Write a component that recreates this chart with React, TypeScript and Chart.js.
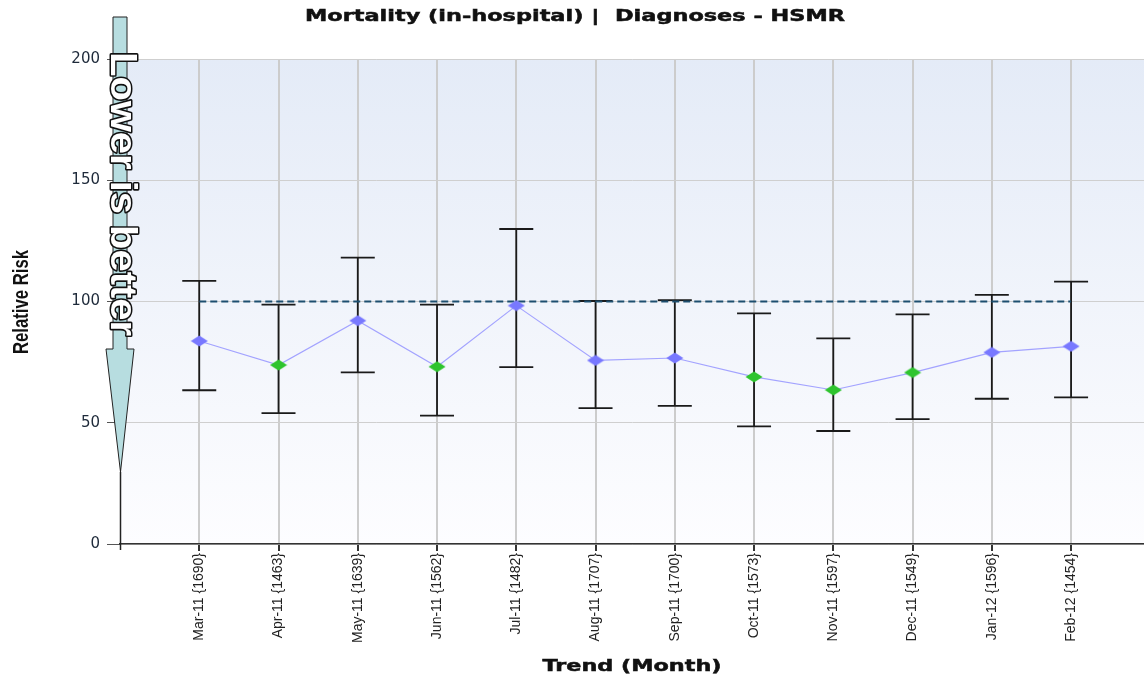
import React, { useEffect, useRef } from "react";
import { Chart, registerables } from "chart.js";

Chart.register(...registerables);

// ---- Data ----
const months = [
  "Mar-11 {1690}",
  "Apr-11 {1463}",
  "May-11 {1639}",
  "Jun-11 {1562}",
  "Jul-11 {1482}",
  "Aug-11 {1707}",
  "Sep-11 {1700}",
  "Oct-11 {1573}",
  "Nov-11 {1597}",
  "Dec-11 {1549}",
  "Jan-12 {1596}",
  "Feb-12 {1454}",
];
const relativeRisk = [83.7, 73.8, 92.1, 73.1, 98.3, 75.7, 76.7, 68.9, 63.5, 70.7, 79.0, 81.5];
const upperCI = [108.5, 98.7, 118.1, 98.7, 129.9, 100.2, 100.6, 95.1, 84.8, 94.7, 102.7, 108.2];
const lowerCI = [63.4, 54.0, 70.8, 52.9, 72.9, 56.0, 57.0, 48.5, 46.6, 51.5, 59.9, 60.5];
const benchmark = 100;
const yTicks = [0, 50, 100, 150, 200];

const chartTitle = "Mortality (in-hospital) |  Diagnoses - HSMR";
const xTitle = "Trend (Month)";
const yTitle = "Relative Risk";
const arrowText = "Lower is better";

const VERDANA = 'Verdana, "DejaVu Sans", sans-serif';
const NARROW = '"Liberation Sans Narrow", "Arial Narrow", "Liberation Sans", Arial, sans-serif';

function makeDiamond(color: string) {
  const c = document.createElement("canvas");
  c.width = 18;
  c.height = 12;
  const g = c.getContext("2d")!;
  g.fillStyle = color;
  g.beginPath();
  g.moveTo(9, 0.5);
  g.lineTo(17.5, 6);
  g.lineTo(9, 11.5);
  g.lineTo(0.5, 6);
  g.closePath();
  g.fill();
  return c;
}

function fitText(ctx: CanvasRenderingContext2D, text: string, target: number) {
  const w = ctx.measureText(text).width;
  return w > 0 ? target / w : 1;
}

function drawWideText(
  ctx: CanvasRenderingContext2D,
  text: string,
  cx: number,
  cy: number,
  targetWidth: number,
  font: string,
  color: string
) {
  ctx.save();
  ctx.font = font;
  ctx.fillStyle = color;
  ctx.strokeStyle = color;
  ctx.lineWidth = 0.5;
  ctx.textAlign = "center";
  ctx.textBaseline = "middle";
  ctx.translate(cx, cy);
  ctx.scale(fitText(ctx, text, targetWidth), 1);
  ctx.fillText(text, 0, 0);
  ctx.strokeText(text, 0, 0);
  ctx.restore();
}

const backgroundPlugin = {
  id: "plotBackground",
  beforeDraw(chart: any) {
    const { ctx, chartArea } = chart;
    const { left, right, top, bottom } = chartArea;
    const g = ctx.createLinearGradient(0, top, 0, bottom);
    g.addColorStop(0, "#e4ebf7");
    g.addColorStop(1, "#fdfdff");
    ctx.save();
    ctx.fillStyle = g;
    ctx.fillRect(left, top, right - left, bottom - top);
    ctx.restore();
  },
};

const errorBarPlugin = {
  id: "errorBars",
  beforeDatasetsDraw(chart: any) {
    const { ctx, scales } = chart;
    const x = scales.x;
    const y = scales.y;
    ctx.save();
    ctx.strokeStyle = "#1a1a1a";
    ctx.lineWidth = 1.8;
    upperCI.forEach((u, i) => {
      const px = x.getPixelForValue(i + 1);
      const pu = y.getPixelForValue(u);
      const pl = y.getPixelForValue(lowerCI[i]);
      ctx.beginPath();
      ctx.moveTo(px, pu);
      ctx.lineTo(px, pl);
      ctx.moveTo(px - 17, pu);
      ctx.lineTo(px + 17, pu);
      ctx.moveTo(px - 17, pl);
      ctx.lineTo(px + 17, pl);
      ctx.stroke();
    });
    ctx.restore();
  },
};

const decorationPlugin = {
  id: "decorations",
  afterDraw(chart: any) {
    const { ctx, chartArea } = chart;
    const ax = chartArea.left;
    ctx.save();

    // Chart title and x axis title (wide bold lettering)
    drawWideText(ctx, chartTitle, 575, 16.5, 540, `bold 16px ${VERDANA}`, "#111");
    drawWideText(
      ctx,
      xTitle,
      (chartArea.left + chartArea.right) / 2,
      667,
      179,
      `bold 16px ${VERDANA}`,
      "#111"
    );

    // Y axis title
    ctx.save();
    ctx.font = `bold 22px ${NARROW}`;
    ctx.fillStyle = "#111";
    ctx.textAlign = "center";
    ctx.textBaseline = "middle";
    ctx.translate(22, 302);
    ctx.rotate(-Math.PI / 2);
    ctx.scale(fitText(ctx, yTitle, 104), 1);
    ctx.fillText(yTitle, 0, 0);
    ctx.restore();

    // Arrow
    const top = 17;
    const headStart = 349;
    const tip = 472;
    ctx.beginPath();
    ctx.moveTo(ax - 7, top);
    ctx.lineTo(ax + 7, top);
    ctx.lineTo(ax + 7, headStart);
    ctx.lineTo(ax + 14, headStart);
    ctx.lineTo(ax + 0.5, tip);
    ctx.lineTo(ax - 14, headStart);
    ctx.lineTo(ax - 7, headStart);
    ctx.closePath();
    ctx.fillStyle = "#b7dde0";
    ctx.fill();
    ctx.strokeStyle = "#222";
    ctx.lineWidth = 1;
    ctx.stroke();
    ctx.beginPath();
    ctx.moveTo(ax + 0.5, tip);
    ctx.lineTo(ax + 0.5, 550);
    ctx.lineWidth = 1.5;
    ctx.stroke();

    // Arrow text
    ctx.save();
    ctx.font = `bold 36px ${NARROW}`;
    ctx.textAlign = "left";
    ctx.textBaseline = "alphabetic";
    ctx.translate(ax - 9, 52);
    ctx.rotate(Math.PI / 2);
    ctx.scale(fitText(ctx, arrowText, 284), 1);
    ctx.lineJoin = "round";
    ctx.strokeStyle = "#111";
    ctx.lineWidth = 3;
    ctx.strokeText(arrowText, 0, 0);
    ctx.fillStyle = "#ffffff";
    ctx.fillText(arrowText, 0, 0);
    ctx.restore();

    ctx.restore();
  },
};

export default function App() {
  const canvasRef = useRef<HTMLCanvasElement | null>(null);

  useEffect(() => {
    document.body.style.margin = "0";
    const canvas = canvasRef.current;
    if (!canvas) return;
    const blue = makeDiamond("#7878ff");
    const green = makeDiamond("#2ec42e");
    const pointStyles = upperCI.map((u) => (u < benchmark ? green : blue));

    const chart = new Chart(canvas, {
      type: "line",
      data: {
        datasets: [
          {
            label: "Relative Risk",
            data: relativeRisk.map((v, i) => ({ x: i + 1, y: v })),
            borderColor: "#a3a3ff",
            borderWidth: 1.2,
            pointStyle: pointStyles as any,
            pointRadius: 7,
            pointHoverRadius: 7,
            tension: 0,
          },
          {
            label: "Benchmark",
            data: months.map((_, i) => ({ x: i + 1, y: benchmark })),
            borderColor: "#1d4e6f",
            borderWidth: 2,
            borderDash: [7, 4],
            pointRadius: 0,
            pointHoverRadius: 0,
          },
        ],
      },
      options: {
        animation: false,
        responsive: false,
        maintainAspectRatio: false,
        events: [],
        layout: { autoPadding: false, padding: { left: 0, right: 0, top: 59, bottom: 0 } },
        plugins: {
          legend: { display: false },
          tooltip: { enabled: false },
          title: { display: false },
        },
        scales: {
          x: {
            type: "linear",
            min: 0,
            max: 12.92,
            afterBuildTicks: (s: any) => {
              s.ticks = months.map((_, i) => ({ value: i + 1 }));
            },
            afterFit: (s: any) => {
              s.height = 137;
              s.paddingLeft = 0;
              s.paddingRight = 0;
            },
            grid: { color: "#cccccc", lineWidth: 2, tickLength: 7, tickColor: "#333" },
            border: { color: "#333", width: 1.5 },
            ticks: {
              autoSkip: false,
              maxRotation: 90,
              minRotation: 90,
              padding: 2,
              color: "#222",
              font: { family: NARROW, size: 14 },
              callback: (v: any) => months[Number(v) - 1] ?? "",
            },
            title: { display: false },
          },
          y: {
            type: "linear",
            min: 0,
            max: 200,
            afterBuildTicks: (s: any) => {
              s.ticks = yTicks.map((v) => ({ value: v }));
            },
            afterFit: (s: any) => {
              s.width = 120;
            },
            grid: { color: "#cfcfcf", lineWidth: 1, tickLength: 13, tickColor: "#555" },
            border: { display: true, color: "#222" },
            ticks: {
              padding: 7,
              color: "#1e2a3a",
              font: { family: VERDANA, size: 15 },
            },
            title: { display: false },
          },
        },
      },
      plugins: [backgroundPlugin, errorBarPlugin, decorationPlugin],
    });
    return () => chart.destroy();
  }, []);

  return (
    <div style={{ width: 1144, height: 681, background: "#fff" }}>
      <canvas ref={canvasRef} width={1144} height={681} style={{ width: 1144, height: 681, display: "block" }} />
    </div>
  );
}
